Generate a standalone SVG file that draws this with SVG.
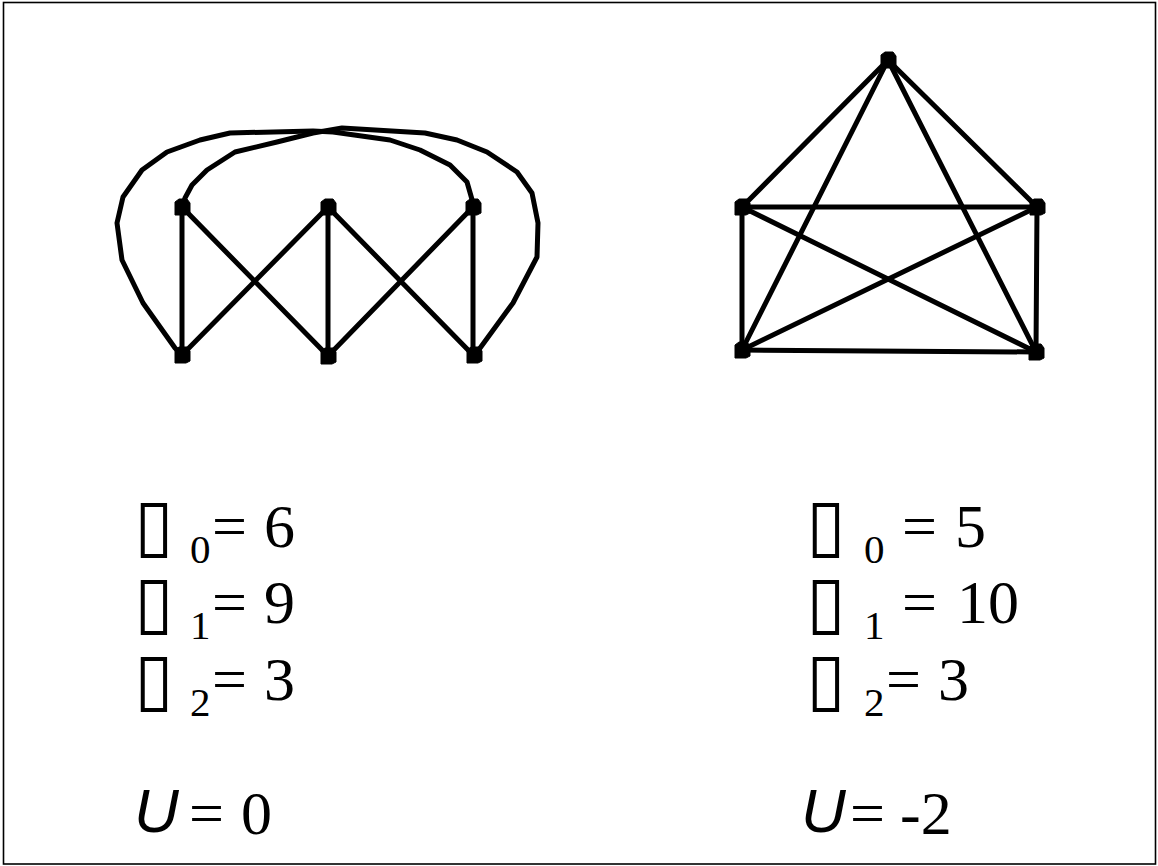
<svg xmlns="http://www.w3.org/2000/svg" width="1158" height="866" viewBox="0 0 1158 866">
<style>
.edge{fill:none;stroke:#000;stroke-width:5;stroke-linejoin:round;stroke-linecap:round}
.node{fill:#000;stroke:#000;stroke-width:1}
.t{font-family:"Liberation Serif","Times New Roman",serif;font-size:62px;fill:#000}
.s{font-size:41px}
.box{font-family:"DejaVu Sans ExtraLight","DejaVu Sans",sans-serif;font-size:72px}
.u{font-family:"Liberation Sans",Arial,sans-serif;font-style:italic;font-size:62px;fill:#000}
</style>
<defs>
<polygon id="nd" points="-7,-5 -3,-8 5,-8 8,-4 8,6 4,8 -7,8"/>
</defs>
<rect x="3.5" y="2.5" width="1152" height="861.5" fill="#fff" stroke="#000" stroke-width="1.6"/>
<g id="connectors">
<line class="edge" x1="182" y1="207" x2="182" y2="355"/>
<line class="edge" x1="328" y1="207" x2="328" y2="356"/>
<line class="edge" x1="473" y1="207" x2="473" y2="355"/>
<line class="edge" x1="182" y1="207" x2="328" y2="356"/>
<line class="edge" x1="328" y1="207" x2="182" y2="355"/>
<line class="edge" x1="328" y1="207" x2="473" y2="355"/>
<line class="edge" x1="473" y1="207" x2="328" y2="356"/>
<polyline class="edge" points="182,355 175,348 143,303 122,260 117,223 123,197 142,170 167,152 200,140 230,133 313,131 333,132 390,140 420,150 450,165 467,182 473,203"/>
<polyline class="edge" points="182,207 185,198 192,185 207,170 235,152 277,142 313,133 342,128 425,133 457,140 487,152 517,172 532,193 538,223 537,257 513,303 475,355"/>
<line class="edge" x1="888" y1="60" x2="742" y2="207"/>
<line class="edge" x1="888" y1="60" x2="1037" y2="207"/>
<line class="edge" x1="888" y1="60" x2="742" y2="350"/>
<line class="edge" x1="888" y1="60" x2="1036" y2="352"/>
<line class="edge" x1="742" y1="207" x2="1037" y2="207"/>
<line class="edge" x1="742" y1="207" x2="742" y2="350"/>
<line class="edge" x1="742" y1="207" x2="1036" y2="352"/>
<line class="edge" x1="1037" y1="207" x2="742" y2="350"/>
<line class="edge" x1="1037" y1="207" x2="1036" y2="352"/>
<line class="edge" x1="742" y1="350" x2="1036" y2="352"/>
</g>
<g id="n-tl"><use href="#nd" class="node" x="182" y="207"/></g>
<g id="n-tm"><use href="#nd" class="node" x="328" y="207"/></g>
<g id="n-tr"><use href="#nd" class="node" x="473" y="207"/></g>
<g id="n-bl"><use href="#nd" class="node" x="182" y="355"/></g>
<g id="n-bm"><use href="#nd" class="node" x="328" y="356"/></g>
<g id="n-br"><use href="#nd" class="node" x="474" y="355"/></g>
<g id="k-top"><use href="#nd" class="node" x="888" y="60"/></g>
<g id="k-l"><use href="#nd" class="node" x="742" y="207"/></g>
<g id="k-r"><use href="#nd" class="node" x="1037" y="207"/></g>
<g id="k-bl"><use href="#nd" class="node" x="742" y="350"/></g>
<g id="k-br"><use href="#nd" class="node" x="1036" y="352"/></g>
<g id="labels-left">
<text class="t"><tspan class="box" x="134" y="549">▯</tspan><tspan class="s" x="190" y="563">0</tspan><tspan x="212" y="547">=</tspan><tspan x="264" y="547">6</tspan><tspan class="box" x="134" y="626">▯</tspan><tspan class="s" x="190" y="639">1</tspan><tspan x="212" y="623">=</tspan><tspan x="264" y="623">9</tspan><tspan class="box" x="134" y="703">▯</tspan><tspan class="s" x="190" y="716">2</tspan><tspan x="212" y="700">=</tspan><tspan x="264" y="700">3</tspan></text>
<text class="u" x="134" y="832">U</text><text class="t" x="189" y="834">=</text><text class="t" x="241" y="834">0</text>
</g>
<g id="labels-right">
<text class="t"><tspan class="box" x="806" y="549">▯</tspan><tspan class="s" x="864" y="563">0</tspan><tspan x="902" y="547">=</tspan><tspan x="955" y="547">5</tspan><tspan class="box" x="806" y="626">▯</tspan><tspan class="s" x="864" y="639">1</tspan><tspan x="902" y="623">=</tspan><tspan x="957" y="623">10</tspan><tspan class="box" x="806" y="703">▯</tspan><tspan class="s" x="864" y="716">2</tspan><tspan x="886" y="700">=</tspan><tspan x="938" y="700">3</tspan></text>
<text class="u" x="801" y="832">U</text><text class="t" x="850" y="834">=</text><text class="t" x="900" y="834">-2</text>
</g>
</svg>
